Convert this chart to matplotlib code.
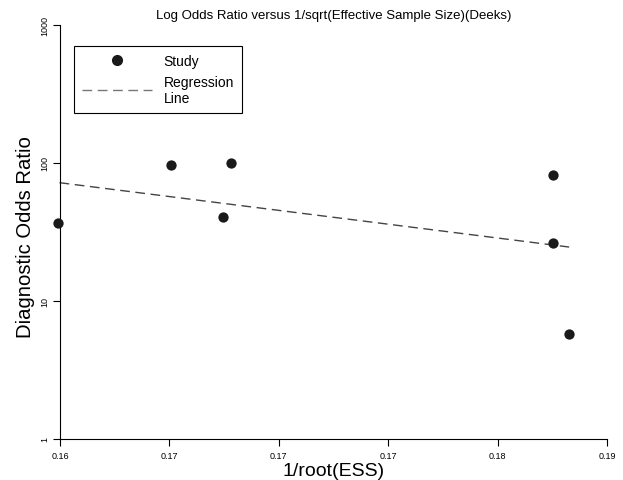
import matplotlib
matplotlib.use("Agg")
import matplotlib.pyplot as plt
from matplotlib.lines import Line2D

plt.rcParams['font.family'] = ['Liberation Sans', 'DejaVu Sans']

# Data
ess_inv = [0.15993, 0.16507, 0.16780, 0.16743, 0.18254, 0.18254, 0.18325]
dor = [36.6, 96.8, 100.5, 40.4, 81.9, 26.3, 5.77]

reg_x = [0.15998, 0.18327]
reg_y = [72.0, 24.6]

x_ticks = [0.160, 0.165, 0.170, 0.175, 0.180, 0.185]
x_tick_labels = ["0.16", "0.17", "0.17", "0.17", "0.18", "0.19"]
y_ticks = [1, 10, 100, 1000]
y_tick_labels = ["1", "10", "100", "1000"]

W, H = 623, 481
fig = plt.figure(figsize=(W / 100, H / 100), dpi=100)
ax = fig.add_axes([60 / W, (H - 440) / H, (607 - 60) / W, (440 - 26) / H])

ax.plot(reg_x, reg_y, linestyle=(0, (7, 4)), color='#444444', linewidth=1.0,
        clip_on=False, zorder=2)
ax.scatter(ess_inv, dor, s=55, color='#1a1a1a', zorder=3, clip_on=False,
           linewidths=0)

ax.set_yscale('log')
ax.set_xlim(x_ticks[0], x_ticks[-1])
ax.set_ylim(1, 1000)
ax.set_xticks(x_ticks)
ax.set_xticklabels(x_tick_labels, fontsize=6.5)
ax.set_yticks(y_ticks)
ax.set_yticklabels(y_tick_labels, fontsize=6.5, rotation=90, va='center')
ax.yaxis.set_minor_locator(matplotlib.ticker.NullLocator())
ax.tick_params(direction='out', length=5, width=0.8, pad=3)
ax.tick_params(axis='x', pad=4)
for s in ['top', 'right']:
    ax.spines[s].set_visible(False)
for s in ['left', 'bottom']:
    ax.spines[s].set_linewidth(0.8)

ax.set_xlabel("1/root(ESS)", fontsize=14, labelpad=1)
fig.text(26 / W, 1 - 237 / H, "Diagnostic Odds Ratio", rotation=90,
         ha='center', va='center', fontsize=14.6)
fig.text(334 / W, 1 - 16 / H,
         "Log Odds Ratio versus 1/sqrt(Effective Sample Size)(Deeks)",
         ha='center', va='center', fontsize=9.5)

handles = [Line2D([], [], marker='o', linestyle='none', color='#1a1a1a', markersize=7),
           Line2D([], [], linestyle=(0, (7, 4)), color='#777777', linewidth=1.0)]
leg = ax.legend(handles, ["Study", "Regression\nLine"], loc='upper left',
                bbox_to_anchor=(74 / W, 1 - 47 / H), bbox_transform=fig.transFigure,
                fancybox=False, framealpha=1, edgecolor='black', fontsize=10,
                handlelength=5.0, handletextpad=0.85, borderpad=0.6,
                labelspacing=0.45, borderaxespad=0)
leg.get_frame().set_linewidth(0.8)

fig.savefig("out.png", dpi=100)
